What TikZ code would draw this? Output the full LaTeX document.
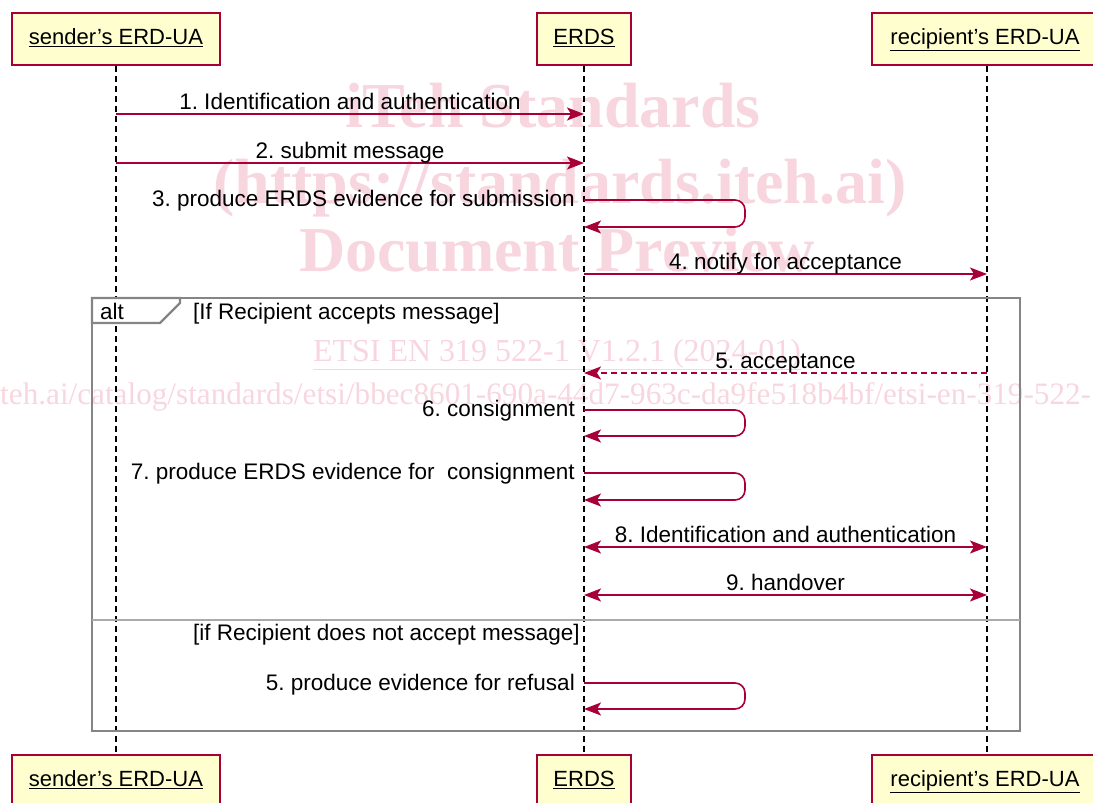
\documentclass[tikz,border=0pt]{standalone}
\usepackage{fontspec}
\setmainfont{Liberation Sans}
\newfontfamily\wmfont{Liberation Serif}
\usetikzlibrary{arrows.meta}
\frenchspacing
\definecolor{umlred}{HTML}{A80036}
\definecolor{umlfill}{HTML}{FEFECE}
\definecolor{wmpink}{HTML}{F8D6DF}
\definecolor{framegray}{HTML}{858585}
\tikzset{
    actor/.style={rectangle, draw=umlred, fill=umlfill, line width=1.6pt, minimum height=52pt, inner sep=0pt, text height=16pt, text depth=5pt, font=\fontsize{22}{25}\selectfont},
    life/.style={dash pattern=on 6pt off 4pt, line width=1.4pt},
    msg/.style={draw=umlred, line width=1.6pt, -{Stealth[length=17pt,width=13pt,inset=4pt]}},
    dmsg/.style={msg, {Stealth[length=17pt,width=13pt,inset=4pt]}-{Stealth[length=17pt,width=13pt,inset=4pt]}},
    lbl/.style={font=\fontsize{22.5}{25}\selectfont, inner sep=0pt},
    frame/.style={draw=framegray, line width=2.2pt},
    wm/.style={text=wmpink, inner sep=0pt, anchor=base}
}

\begin{document}
\begin{tikzpicture}[x=1pt, y=-1pt]
        \clip (0,0) rectangle (1093,803);
        % watermark
        \node (w0) [wm, font=\wmfont\bfseries\fontsize{64}{68}\selectfont] at (553, 127) {iTeh Standards};
        \node (w1) [wm, font=\wmfont\bfseries\fontsize{64}{68}\selectfont] at (560, 203) {(https://standards.iteh.ai)};
        \node (w2) [wm, font=\wmfont\bfseries\fontsize{64}{68}\selectfont] at (557, 271) {Document Preview};
        \node (w3) [wm, font=\wmfont\fontsize{32}{34}\selectfont] at (557, 361) {\underline{ETSI EN 319 522-1 V1.2.1 (2024-01)}};
        \node (w4) [wm, anchor=base west, font=\wmfont\fontsize{31.2}{34}\selectfont] at (0, 404) {\llap{https://standards.i}teh.ai/catalog/standards/etsi/bbec8601-690a-44d7-963c-da9fe518b4bf/etsi-en-319-522-1-v1.2.1-2024-01};
        % participants
        \node (p0) [actor, minimum width=208pt] at (116, 39) {\underline{sender's ERD-UA}};
        \node (p1) [actor, minimum width=94pt] at (584, 39) {\underline{ERDS}};
        \node (p2) [actor, minimum width=230pt] at (987, 39) {\hspace*{-4pt}\underline{recipient's ERD-UA}};
        \node (q0) [actor, minimum width=208pt] at (116, 781) {\underline{sender's ERD-UA}};
        \node (q1) [actor, minimum width=94pt] at (584, 781) {\underline{ERDS}};
        \node (q2) [actor, minimum width=230pt] at (987, 781) {\hspace*{-4pt}\underline{recipient's ERD-UA}};
        \draw[life] (p0) -- (q0);
        \draw[life] (p1) -- (q1);
        \draw[life] (p2) -- (q2);
        % alt frame
        \draw[frame] (92,298) rectangle (1020,731);
        \draw[frame, fill=white] (92,298) -- (92,323) -- (160,323) -- (180,303) -- (180,298) -- cycle;
        \draw[draw=framegray!70, line width=1.4pt] (92,620) -- (1020,620);
        \node (g0) [lbl, anchor=base west] at (100, 319) {alt};
        \node (g1) [lbl, anchor=base west] at (193, 319) {[If Recipient accepts message]};
        \node (g2) [lbl, anchor=base west] at (193, 640) {[if Recipient does not accept message]};
        % messages
        \coordinate (a1) at (116,114); \coordinate (b1) at (584,114);
        \coordinate (a2) at (116,163); \coordinate (b2) at (584,163);
        \coordinate (a3) at (584,200); \coordinate (b3) at (584,227);
        \coordinate (a4) at (584,274); \coordinate (b4) at (987,274);
        \coordinate (a5) at (987,373); \coordinate (b5) at (584,373);
        \coordinate (a6) at (584,410); \coordinate (b6) at (584,436);
        \coordinate (a7) at (584,473); \coordinate (b7) at (584,500);
        \coordinate (a8) at (584,547); \coordinate (b8) at (987,547);
        \coordinate (a9) at (584,595); \coordinate (b9) at (987,595);
        \coordinate (a10) at (584,683); \coordinate (b10) at (584,709);
        \draw[msg] (a1) -- node[lbl, anchor=base, yshift=5pt] {1. Identification and authentication} (b1);
        \draw[msg] (a2) -- node[lbl, anchor=base, yshift=5pt] {2. submit message} (b2);
        \draw[msg, rounded corners=10pt] (a3) -- ++(161,0) -- ++(0,27) -- (b3);
        \node (t3) [lbl, anchor=base east] at ([xshift=-9pt, yshift=-6pt]a3) {3. produce ERDS evidence for submission};
        \draw[msg] (a4) -- node[lbl, anchor=base, yshift=5pt] {4. notify for acceptance} (b4);
        \draw[msg, dash pattern=on 6pt off 4pt] (a5) -- node[lbl, anchor=base, yshift=5pt] {5. acceptance} (b5);
        \draw[msg, rounded corners=10pt] (a6) -- ++(161,0) -- ++(0,26) -- (b6);
        \node (t6) [lbl, anchor=base east] at ([xshift=-9pt, yshift=-6pt]a6) {6. consignment};
        \draw[msg, rounded corners=10pt] (a7) -- ++(161,0) -- ++(0,27) -- (b7);
        \node (t7) [lbl, anchor=base east] at ([xshift=-9pt, yshift=-6pt]a7) {7. produce ERDS evidence for~ consignment};
        \draw[dmsg] (a8) -- node[lbl, anchor=base, yshift=5pt] {8. Identification and authentication} (b8);
        \draw[dmsg] (a9) -- node[lbl, anchor=base, yshift=5pt] {9. handover} (b9);
        \draw[msg, rounded corners=10pt] (a10) -- ++(161,0) -- ++(0,26) -- (b10);
        \node (t10) [lbl, anchor=base east] at ([xshift=-9pt, yshift=-7pt]a10) {5. produce evidence for refusal};
\end{tikzpicture}
\end{document}
